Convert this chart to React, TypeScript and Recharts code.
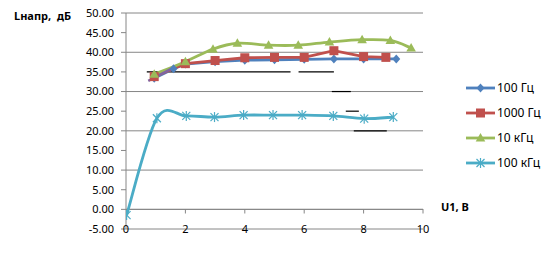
import React from 'react';
import { LineChart, Line, XAxis, YAxis, CartesianGrid, ReferenceLine, Legend } from 'recharts';

const seriesNames = ['100 Гц', '1000 Гц', '10 кГц', '100 кГц'];
const seriesColors = ['#4F81BD', '#C0504D', '#9BBB59', '#4BACC6'];

const hz100 = [
  { x: 0.95, y: 33.4 }, { x: 1.6, y: 35.8 }, { x: 2.0, y: 37.0 }, { x: 3.0, y: 37.6 },
  { x: 4.0, y: 38.0 }, { x: 5.0, y: 38.1 }, { x: 6.0, y: 38.2 }, { x: 7.0, y: 38.3 },
  { x: 8.0, y: 38.3 }, { x: 9.1, y: 38.3 },
];
const hz1000 = [
  { x: 0.95, y: 33.8 }, { x: 2.0, y: 37.1 }, { x: 3.0, y: 37.9 }, { x: 4.0, y: 38.6 },
  { x: 5.0, y: 38.7 }, { x: 6.0, y: 38.7 }, { x: 7.0, y: 40.4 }, { x: 8.0, y: 38.9 },
  { x: 8.75, y: 38.7 },
];
const khz10 = [
  { x: 0.95, y: 34.4 }, { x: 2.0, y: 37.6 }, { x: 2.93, y: 40.8 }, { x: 3.75, y: 42.3 },
  { x: 4.8, y: 41.8 }, { x: 5.8, y: 41.8 }, { x: 6.85, y: 42.6 }, { x: 7.95, y: 43.2 },
  { x: 8.9, y: 43.0 }, { x: 9.6, y: 41.1 },
];
const khz100 = [
  { x: 0.02, y: -1.45 }, { x: 1.04, y: 23.2 }, { x: 2.03, y: 23.8 }, { x: 2.98, y: 23.5 },
  { x: 3.96, y: 24.0 }, { x: 4.95, y: 24.0 }, { x: 5.93, y: 24.0 }, { x: 6.98, y: 23.8 },
  { x: 8.02, y: 23.1 }, { x: 9.0, y: 23.5 },
];
const hiddenPurple = [{ x: 0.75, y: 32.7 }, { x: 1.6, y: 36.1 }];
const blackSegments = [
  [{ x: 0.7, y: 35 }, { x: 5.54, y: 35 }],
  [{ x: 5.81, y: 35 }, { x: 7.0, y: 35 }],
  [{ x: 6.93, y: 30 }, { x: 7.57, y: 30 }],
  [{ x: 7.4, y: 25 }, { x: 7.84, y: 25 }],
  [{ x: 7.67, y: 20 }, { x: 8.78, y: 20 }],
];

const yTicks = [-5, 0, 5, 10, 15, 20, 25, 30, 35, 40, 45, 50];
const xTicks = [0, 2, 4, 6, 8, 10];

const FONT = "'Noto Sans', 'DejaVu Sans', sans-serif";
const GRID = '#868686';

function excelSmooth(context: any) {
  let pts: [number, number][] = [];
  return {
    areaStart() {},
    areaEnd() {},
    lineStart() { pts = []; },
    point(x: number, y: number) { pts.push([+x, +y]); },
    lineEnd() {
      const n = pts.length;
      if (!n) return;
      context.moveTo(pts[0][0], pts[0][1]);
      if (n === 2) { context.lineTo(pts[1][0], pts[1][1]); return; }
      for (let i = 0; i < n - 1; i++) {
        const p0 = pts[Math.max(i - 1, 0)], p1 = pts[i], p2 = pts[i + 1], p3 = pts[Math.min(i + 2, n - 1)];
        context.bezierCurveTo(
          p1[0] + (p2[0] - p0[0]) / 6, p1[1] + (p2[1] - p0[1]) / 6,
          p2[0] - (p3[0] - p1[0]) / 6, p2[1] - (p3[1] - p1[1]) / 6,
          p2[0], p2[1]
        );
      }
    },
  };
}

function Marker({ kind, cx, cy, color }: { kind: number; cx: number; cy: number; color: string }) {
  if (kind === 0) {
    return <path d={`M${cx},${cy - 4.5}L${cx + 4},${cy}L${cx},${cy + 4.5}L${cx - 4},${cy}Z`} fill={color} />;
  }
  if (kind === 1) {
    return <rect x={cx - 4.5} y={cy - 4.5} width={9} height={9} fill={color} />;
  }
  if (kind === 2) {
    return <path d={`M${cx},${cy - 5}L${cx + 4.8},${cy + 3.5}L${cx - 4.8},${cy + 3.5}Z`} fill={color} />;
  }
  return (
    <g stroke={color} strokeWidth={1.2}>
      <line x1={cx - 4} y1={cy - 4} x2={cx + 4} y2={cy + 4} />
      <line x1={cx - 4} y1={cy + 4} x2={cx + 4} y2={cy - 4} />
      <line x1={cx} y1={cy - 5} x2={cx} y2={cy + 5} />
    </g>
  );
}

const makeDot = (kind: number) => (props: any) => {
  const { cx, cy, index } = props;
  if (cx == null || cy == null) return <g key={`e-${kind}-${index}`} />;
  return <Marker key={`m-${kind}-${index}`} kind={kind} cx={cx} cy={cy} color={seriesColors[kind]} />;
};

const XTick = (props: any) => {
  const { x, y, payload } = props;
  return (
    <g>
      {payload.value !== 0 && <line x1={x} y1={y - 20} x2={x} y2={y - 15.5} stroke={GRID} strokeWidth={1} />}
      <text x={x} y={y - 1} textAnchor="middle" dominantBaseline="central" fontFamily={FONT} fontSize={11} fill="#000">
        {payload.value}
      </text>
    </g>
  );
};

const LegendContent = (props: any) => {
  const items = (props.payload || [])
    .filter((p: any) => seriesNames.includes(p.value))
    .sort((a: any, b: any) => seriesNames.indexOf(a.value) - seriesNames.indexOf(b.value));
  return (
    <div style={{ fontFamily: FONT, fontSize: 12, color: '#000' }}>
      {items.map((p: any) => {
        const k = seriesNames.indexOf(p.value);
        return (
          <div key={p.value} style={{ height: 25, display: 'flex', alignItems: 'center' }}>
            <svg width={31} height={12} style={{ display: 'block' }}>
              <line x1={1} y1={6} x2={30} y2={6} stroke={seriesColors[k]} strokeWidth={2.8} />
              <Marker kind={k} cx={15.5} cy={6} color={seriesColors[k]} />
            </svg>
            <span style={{ marginLeft: 1, whiteSpace: 'nowrap' }}>{p.value}</span>
          </div>
        );
      })}
    </div>
  );
};

export default function App() {
  return (
    <div style={{ position: 'absolute', left: 0, top: 0, width: 543, height: 279, background: '#fff' }}>
      <LineChart width={543} height={279} margin={{ top: 13, right: 120, bottom: 20, left: 0 }}>
        <CartesianGrid vertical={false} stroke={GRID} strokeWidth={1} />
        <XAxis
          type="number"
          dataKey="x"
          domain={[0, 10]}
          ticks={xTicks}
          axisLine={false}
          tickLine={false}
          tickSize={0}
          tickMargin={0}
          height={30}
          tick={<XTick />}
          allowDataOverflow
        />
        <YAxis
          type="number"
          dataKey="y"
          domain={[-5, 50]}
          ticks={yTicks}
          width={126}
          stroke={GRID}
          tickSize={5}
          tickMargin={7}
          tickFormatter={(v: number) => v.toFixed(2)}
          tick={{ fontFamily: FONT, fontSize: 11, fill: '#000' }}
          allowDataOverflow
        />
        <ReferenceLine y={0} stroke={GRID} strokeWidth={1} />
        {blackSegments.map((seg, i) => (
          <Line
            key={`blk-${i}`}
            data={seg}
            dataKey="y"
            type="linear"
            stroke="#000"
            strokeWidth={1.2}
            dot={false}
            activeDot={false}
            legendType="none"
            name={`seg${i}`}
            isAnimationActive={false}
          />
        ))}
        <Line data={hz100} dataKey="y" name={seriesNames[0]} type="linear" stroke={seriesColors[0]} strokeWidth={2.8} dot={makeDot(0)} activeDot={false} isAnimationActive={false} />
        <Line data={hz1000} dataKey="y" name={seriesNames[1]} type="linear" stroke={seriesColors[1]} strokeWidth={2.8} dot={makeDot(1)} activeDot={false} isAnimationActive={false} />
        <Line data={khz10} dataKey="y" name={seriesNames[2]} type={excelSmooth as any} stroke={seriesColors[2]} strokeWidth={2.8} dot={makeDot(2)} activeDot={false} isAnimationActive={false} />
        <Line data={hiddenPurple} dataKey="y" name="hidden" type="linear" stroke="#8064A2" strokeWidth={2.5} dot={false} activeDot={false} legendType="none" isAnimationActive={false} />
        <Line data={khz100} dataKey="y" name={seriesNames[3]} type={excelSmooth as any} stroke={seriesColors[3]} strokeWidth={2.8} dot={makeDot(3)} activeDot={false} isAnimationActive={false} />
        <Legend
          layout="vertical"
          align="center"
          verticalAlign="middle"
          wrapperStyle={{ left: 465, top: 75, width: 78 }}
          content={<LegendContent />}
        />
      </LineChart>
      <div style={{ position: 'absolute', left: 14, top: 9, fontFamily: FONT, fontSize: 11, fontWeight: 700, lineHeight: '14px', whiteSpace: 'pre', color: '#000' }}>
        {'Lнапр,  дБ'}
      </div>
      <div style={{ position: 'absolute', left: 441, top: 200, fontFamily: FONT, fontSize: 11, fontWeight: 700, lineHeight: '14px', whiteSpace: 'pre', color: '#000' }}>
        {'U1, В'}
      </div>
    </div>
  );
}
